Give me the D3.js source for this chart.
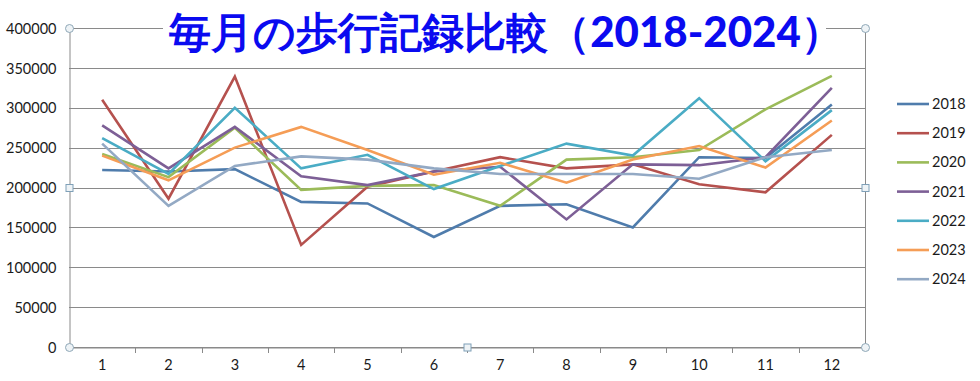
<!DOCTYPE html>
<html>
<head>
<meta charset="utf-8">
<script src="https://cdn.jsdelivr.net/npm/d3@7"></script>
<style>
body{margin:0;background:#fff;}
text{font-family:Lato,"Liberation Sans",sans-serif;}
</style>
</head>
<body>
<script>
// months on the x axis
var months=[1,2,3,4,5,6,7,8,9,10,11,12];
var yTicks=[0,50000,100000,150000,200000,250000,300000,350000,400000];
var years=["2018","2019","2020","2021","2022","2023","2024"];
var colours=["#4f7cac","#b5514e","#9bbb59","#7d5f96","#4aacc5","#f59d56","#93a9c4"];

// steps per month
var s2018=[222000,220000,223000,182000,180000,138000,177000,179000,150000,238000,237000,304000];
var s2019=[310000,186000,339000,128000,201000,220000,238000,224000,229000,204000,194000,266000];
var s2020=[242000,213000,275000,197000,202000,203000,177000,235000,238000,247000,298000,340000];
var s2021=[278000,224000,276000,214000,203000,220000,226000,160000,229000,228000,238000,325000];
var s2022=[262000,217000,300000,224000,241000,198000,227000,255000,240000,312000,233000,297000];
var s2023=[240000,209000,250000,276000,247000,216000,231000,206000,235000,252000,225000,284000];
var s2024=[255000,177000,227000,239000,235000,224000,217000,217000,217000,211000,238000,247000];
var series=[s2018,s2019,s2020,s2021,s2022,s2023,s2024];

var W=980,H=381;
// plot area edges (note: "top" is taken by window.top, so use pTop etc)
var pLeft=69,pRight=865,pTop=28,pBottom=347;

var svg=d3.select("body").append("svg").attr("width",W).attr("height",H);

var x=d3.scaleBand().domain(months).range([pLeft,pRight]);
var y=d3.scaleLinear().domain([0,400000]).range([pBottom,pTop]);

// gridlines
svg.append("g").selectAll("line").data(yTicks).enter().append("line")
  .attr("x1",pLeft).attr("x2",pRight)
  .attr("y1",function(d){return Math.round(y(d))+0.5;}).attr("y2",function(d){return Math.round(y(d))+0.5;})
  .attr("stroke","#8a8a8a").attr("stroke-width",1);

// right border of plot
svg.append("line").attr("x1",pRight+0.5).attr("x2",pRight+0.5).attr("y1",pTop).attr("y2",pBottom)
  .attr("stroke","#8a8a8a");

// y axis
var yAxis=svg.append("g").attr("transform","translate("+(pLeft+0.5)+",0.5)")
  .call(d3.axisLeft(y).tickValues(yTicks).tickSize(0).tickPadding(13).tickFormat(d3.format("d")));
yAxis.select(".domain").attr("stroke","#8a8a8a");
yAxis.selectAll("text").attr("font-size",14.5).attr("fill","#1a1a1a").attr("font-family","Lato");

// x axis with ticks between categories
var xAxis=svg.append("g").attr("transform","translate(0,"+(pBottom+0.5)+")")
  .call(d3.axisBottom(x).tickSize(0).tickPadding(12));
xAxis.select(".domain").attr("stroke","#8a8a8a");
xAxis.selectAll("text").attr("font-size",14.5).attr("fill","#1a1a1a").attr("font-family","Lato");
svg.append("g").selectAll("line").data(months.slice(1)).enter().append("line")
  .attr("x1",function(d){return Math.round(x(d))+0.5;}).attr("x2",function(d){return Math.round(x(d))+0.5;})
  .attr("y1",pBottom).attr("y2",pBottom+6).attr("stroke","#8a8a8a");

// lines
var line=d3.line()
  .x(function(d,i){return x(months[i])+x.bandwidth()/2;})
  .y(function(d){return y(d);});
svg.append("g").selectAll("path").data(series).enter().append("path")
  .attr("d",line).attr("fill","none")
  .attr("stroke",function(d,i){return colours[i];})
  .attr("stroke-width",2.6).attr("stroke-linejoin","miter");

// title with white backing that hides the top gridline
svg.append("rect").attr("x",163).attr("y",0).attr("width",663).attr("height",31).attr("fill","#fff");
svg.append("text").attr("x",506).attr("y",47).attr("text-anchor","middle")
  .attr("font-family","'Noto Sans CJK JP'").attr("font-weight",900).attr("font-size",42)
  .attr("fill","#0a0af0").text("毎月の歩行記録比較（2018-2024）");

// legend
var leg=svg.append("g").selectAll("g").data(years).enter().append("g")
  .attr("transform",function(d,i){return "translate(897,"+(104+i*29.2)+")";});
leg.append("line").attr("x1",0).attr("x2",32).attr("y1",0).attr("y2",0)
  .attr("stroke",function(d,i){return colours[i];}).attr("stroke-width",2.6);
leg.append("text").attr("x",35).attr("y",5).attr("font-size",14.5).attr("fill","#1a1a1a")
  .attr("font-family","Lato").text(function(d){return d;});

// selection handles like the selected chart in the picture
var circles=[[pLeft,pTop],[pRight,pTop],[pLeft,pBottom],[pRight,pBottom]];
var squares=[[pLeft,(pTop+pBottom)/2],[pRight,(pTop+pBottom)/2],[(pLeft+pRight)/2,pBottom]];
svg.append("g").selectAll("circle").data(circles).enter().append("circle")
  .attr("cx",function(d){return d[0]+0.5;}).attr("cy",function(d){return d[1]+0.5;}).attr("r",4)
  .attr("fill","#eef3f6").attr("stroke","#8fa8b8");
svg.append("g").selectAll("rect").data(squares).enter().append("rect")
  .attr("x",function(d){return d[0]-3;}).attr("y",function(d){return d[1]-3;})
  .attr("width",7).attr("height",7)
  .attr("fill","#eef3f6").attr("stroke","#7fa0b8");
</script>
</body>
</html>
